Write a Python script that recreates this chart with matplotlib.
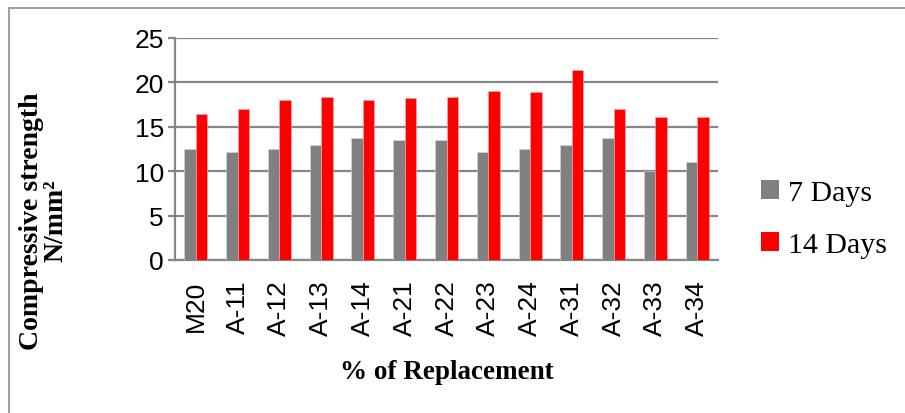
import numpy as np
import matplotlib
matplotlib.use('Agg')
import matplotlib.pyplot as plt
import matplotlib.patches as patches
from matplotlib.lines import Line2D

categories = ['M20', 'A-11', 'A-12', 'A-13', 'A-14', 'A-21', 'A-22',
              'A-23', 'A-24', 'A-31', 'A-32', 'A-33', 'A-34']
days7 = [12.5, 12.2, 12.5, 12.9, 13.7, 13.5, 13.5, 12.2, 12.5, 12.9, 13.7, 10.0, 11.0]
days14 = [16.4, 17.0, 18.0, 18.4, 18.0, 18.2, 18.3, 19.0, 18.9, 21.4, 17.0, 16.1, 16.1]
series_names = ['7 Days', '14 Days']
yticks = [0, 5, 10, 15, 20, 25]

GRAY = '#808080'
RED = '#ff0000'
GRID = '#868686'

W, H = 905, 414
fig = plt.figure(figsize=(W / 100, H / 100), dpi=100)
ax = fig.add_axes([175 / W, 1 - 261 / H, (718 - 175) / W, (261 - 39) / H])

x = np.arange(len(categories))
bw = 0.275
ax.bar(x - bw / 2, days7, bw, color=GRAY, edgecolor='#d9d9d9', linewidth=0.4, zorder=3)
ax.bar(x + bw / 2, days14, bw, color=RED, edgecolor='#f2b0b0', linewidth=0.4, zorder=3)

ax.set_xlim(-0.5, len(categories) - 0.5)
ax.set_ylim(0, 25)
ax.set_yticks(yticks)
ax.yaxis.grid(True, color=GRID, linewidth=1.6, zorder=0)
ax.set_axisbelow(True)

for s in ['top', 'right']:
    ax.spines[s].set_visible(False)
for s in ['left', 'bottom']:
    ax.spines[s].set_color(GRID)
    ax.spines[s].set_linewidth(1.6)

ax.tick_params(axis='y', length=5, width=1.6, color=GRID, pad=3,
               labelsize=19)
ax.set_xticks(x)
ax.set_xticklabels(categories, rotation=90, fontsize=19)
ax.tick_params(axis='x', length=0, pad=14)
for lbl in ax.get_xticklabels() + ax.get_yticklabels():
    lbl.set_fontfamily('Liberation Sans')

# axis titles
fig.text(44 / W, 1 - 221 / H, 'Compressive strength\nN/mm²', rotation=90,
         ha='center', va='center', fontfamily='Liberation Serif',
         fontweight='bold', fontsize=20, linespacing=0.95)
fig.text(447 / W, 1 - 373 / H, '% of Replacement', ha='center', va='center',
         fontfamily='Liberation Serif', fontweight='bold', fontsize=19.5)

# legend
handles = [patches.Patch(facecolor=GRAY), patches.Patch(facecolor=RED)]
fig.legend(handles, series_names, loc='center left',
           bbox_to_anchor=(749 / W, 1 - 220 / H), frameon=False,
           prop={'family': 'Liberation Serif', 'size': 21.5},
           handlelength=0.6, handleheight=0.6, handletextpad=0.3,
           labelspacing=0.85, borderaxespad=0)

# outer frame (cropped screenshot border)
fig.add_artist(Line2D([8.5 / W, 8.5 / W], [0, 1 - 9 / H], color='#a0a0a0',
                      linewidth=1.5, transform=fig.transFigure))
fig.add_artist(Line2D([8.5 / W, 1], [1 - 9 / H, 1 - 9 / H], color='#a0a0a0',
                      linewidth=1.5, transform=fig.transFigure))

fig.savefig('out.png', dpi=100)
